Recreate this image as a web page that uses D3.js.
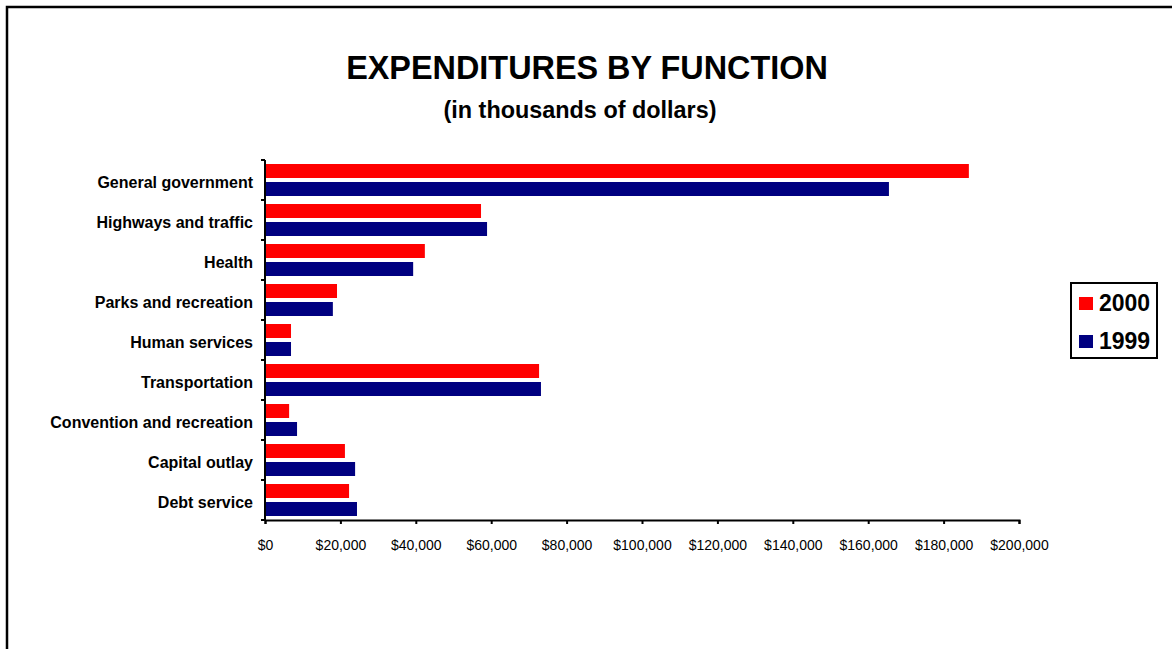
<!DOCTYPE html>
<html><head><meta charset="utf-8">
<script src="https://cdn.jsdelivr.net/npm/d3@7"></script>
<style>body{margin:0;background:#fff}svg{display:block}text{font-family:"Liberation Sans",Arial,sans-serif}</style>
</head><body><svg id="c" width="1172" height="649"></svg>
<script>
const categories = ["General government","Highways and traffic","Health","Parks and recreation","Human services","Transportation","Convention and recreation","Capital outlay","Debt service"];
const values2000 = [186700,57300,42400,19100,6900,72700,6400,21200,22300];
const values1999 = [165500,58900,39300,18000,6900,73200,8500,23900,24400];
const seriesNames = ["2000","1999"];
const seriesColors = ["#FF0000","#000080"];
const tickValues = [0,20000,40000,60000,80000,100000,120000,140000,160000,180000,200000];

const svg = d3.select("#c");
svg.append("rect").attr("x",7).attr("y",7).attr("width",1300).attr("height",800)
  .attr("fill","none").attr("stroke","#000").attr("stroke-width",2.5);

svg.append("text").attr("x",587).attr("y",79).attr("text-anchor","middle")
  .attr("font-weight","bold").attr("font-size",32.4).text("EXPENDITURES BY FUNCTION");
svg.append("text").attr("x",580).attr("y",118).attr("text-anchor","middle")
  .attr("font-weight","bold").attr("font-size",23.4).text("(in thousands of dollars)");

const x = d3.scaleLinear().domain([0,200000]).range([265,1019]);
const y = d3.scaleBand().domain(categories).range([160,520]);
const inner = d3.scaleBand().domain(seriesNames).range([4,36]).paddingInner(4/18);

const data = categories.map((c,i)=>({c, v:[values2000[i],values1999[i]]}));
const g = svg.append("g");
data.forEach(d=>{
  seriesNames.forEach((s,j)=>{
    g.append("rect").attr("x",x(0)+1).attr("y",y(d.c)+inner(s))
      .attr("width",x(d.v[j])-x(0)-1).attr("height",inner.bandwidth())
      .attr("fill",seriesColors[j]);
  });
});

// y axis
const ya = svg.append("g");
ya.append("line").attr("x1",265).attr("x2",265).attr("y1",160).attr("y2",520).attr("stroke","#000").attr("stroke-width",2);
const yTicks = categories.map(c=>y(c)).concat([520]);
yTicks.forEach(t=>ya.append("line").attr("x1",261).attr("x2",265).attr("y1",t).attr("y2",t).attr("stroke","#000").attr("stroke-width",2));
categories.forEach(c=>ya.append("text").attr("x",253).attr("y",y(c)+y.bandwidth()/2+8)
  .attr("text-anchor","end").attr("font-weight","bold").attr("font-size",16).text(c));

// x axis
const xa = svg.append("g").attr("transform","translate(0,520)");
xa.call(d3.axisBottom(x).tickValues(tickValues).tickSize(4).tickFormat(d=>"$"+d3.format(",")(d)));
xa.select(".domain").attr("stroke-width",2);
xa.selectAll(".tick line").attr("stroke-width",2);
xa.selectAll(".tick text").attr("font-size",14).attr("font-family","Liberation Sans, Arial, sans-serif").attr("dy",0).attr("y",30).attr("fill","#000");

// legend
const lg = svg.append("g");
lg.append("rect").attr("x",1071).attr("y",283).attr("width",86).attr("height",75).attr("fill","#fff").attr("stroke","#000").attr("stroke-width",2);
seriesNames.forEach((s,j)=>{
  lg.append("rect").attr("x",1079).attr("y",297+38*j).attr("width",14).attr("height",13).attr("fill",seriesColors[j]);
  lg.append("text").attr("x",1099).attr("y",311+38*j).attr("font-weight","bold").attr("font-size",23).text(s);
});
</script></body></html>
